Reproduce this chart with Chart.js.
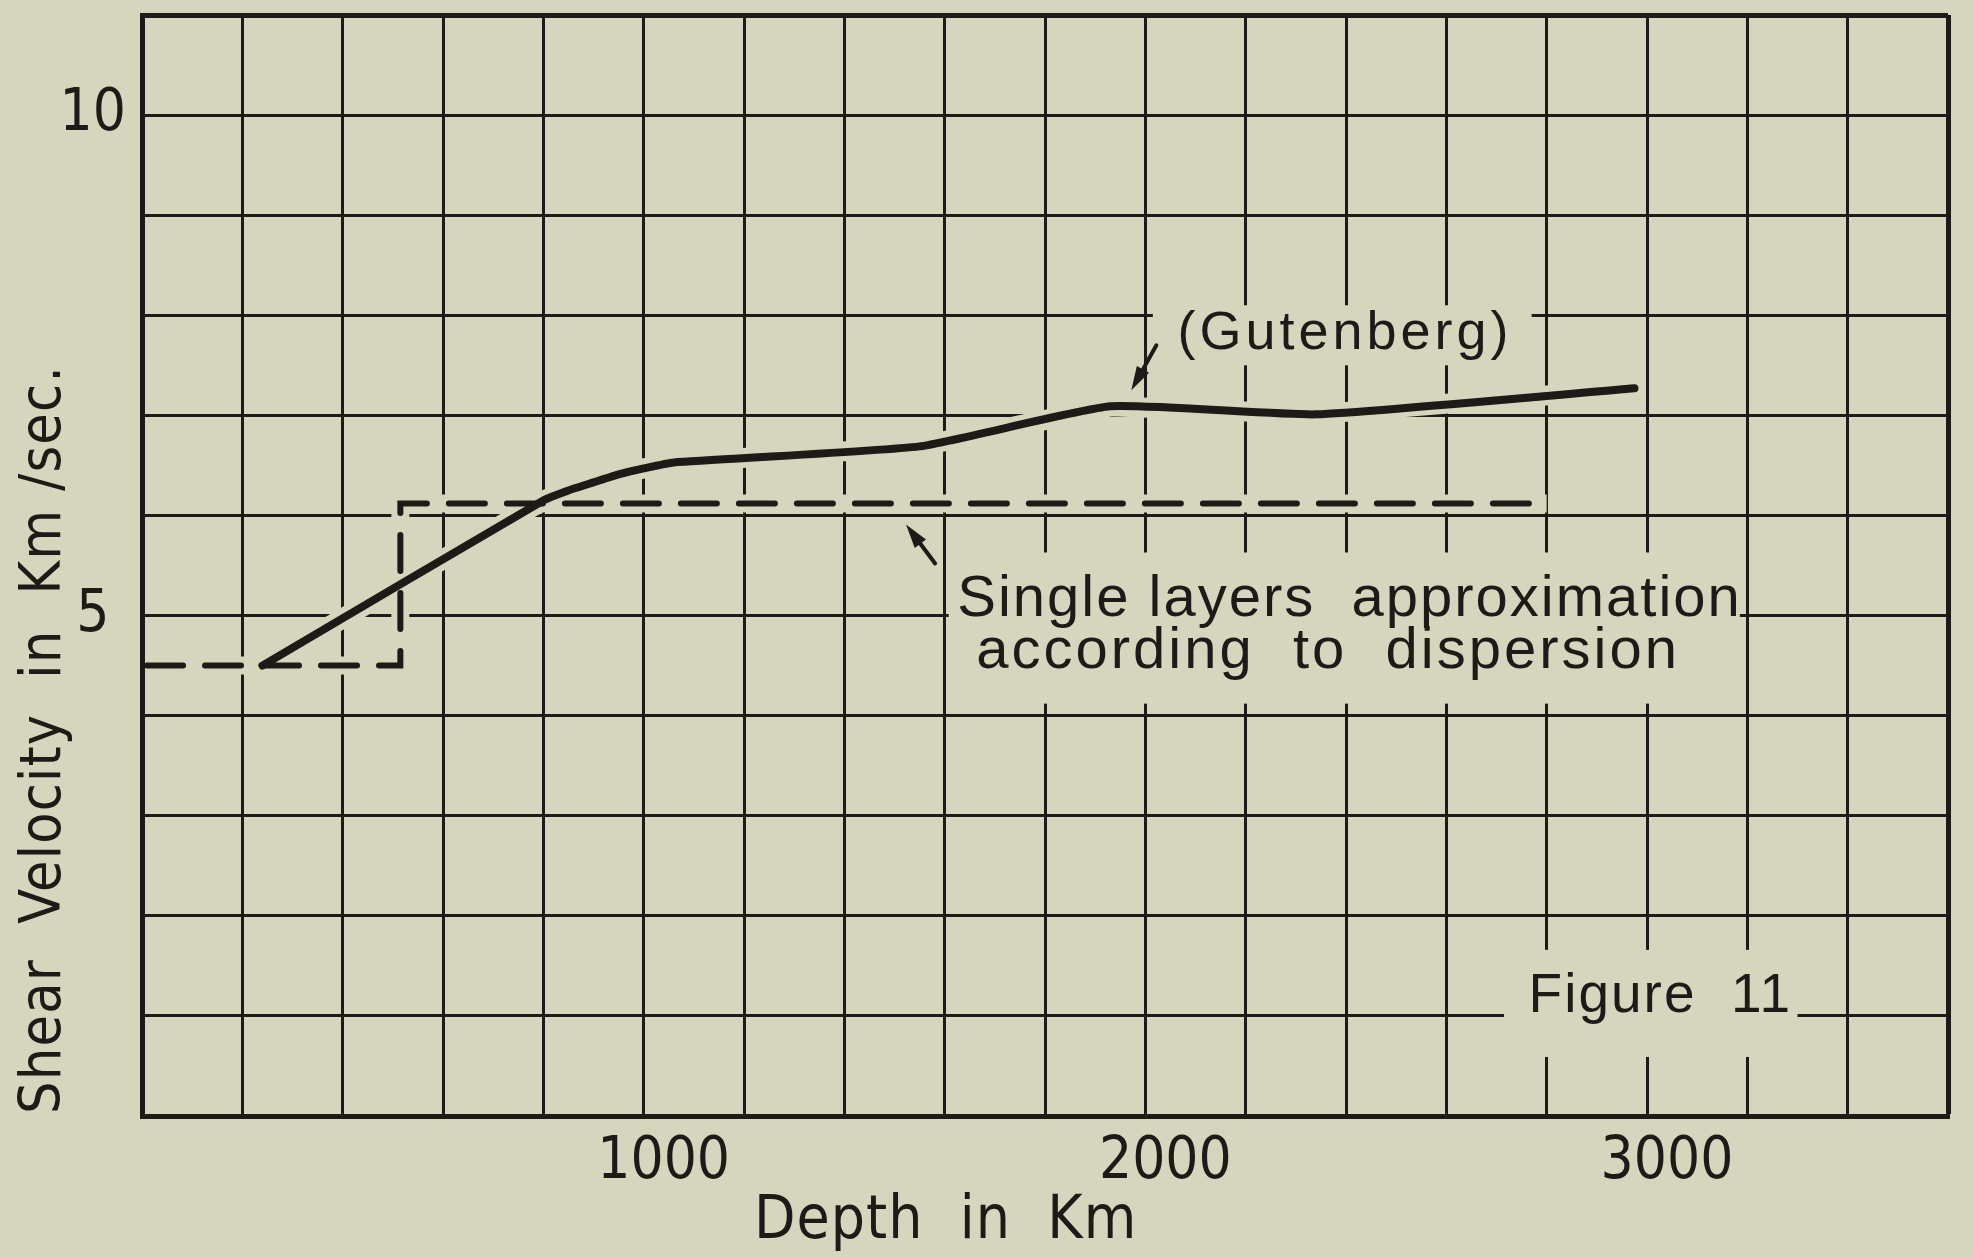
<!DOCTYPE html>
<html>
<head>
<meta charset="utf-8">
<script src="https://cdn.jsdelivr.net/npm/chart.js@4.4.0/dist/chart.umd.min.js"></script>
<style>
  html, body { margin: 0; padding: 0; background: #d6d6be; }
  canvas { display: block; }
</style>
</head>
<body>
<canvas id="chShear" width="1974" height="1257"></canvas>
<script>
// Gutenberg shear velocity curve (depth km, velocity km/sec)
var gutDepth = [240, 800, 850, 900, 950, 1000, 1060, 1550, 1930, 2340, 2975];
var gutVel = [4.50, 6.15, 6.25, 6.33, 6.41, 6.47, 6.53, 6.69, 7.09, 7.01, 7.27];

// single layers approximation according to dispersion (dashed)
var layerDepth = [10, 515, 515, 2800];
var layerVel = [4.5, 4.5, 6.12, 6.12];

var xLabels = [1000, 2000, 3000];
var yLabels = [5, 10];

var paper = '#d6d6be';
var ink = '#1d1b17';
var narrow = '"DejaVu Sans Condensed", "Liberation Sans", sans-serif';
var plain = '"Liberation Sans", "DejaVu Sans", sans-serif';

function pts(xs, ys) {
    return xs.map(function (v, i) { return { x: v, y: ys[i] }; });
}

// paper-coloured patches behind the lettering, and a halo along each curve
var paperPlugin = {
    id: 'paper',
    beforeDraw: function (chart) {
        var ctx = chart.ctx;
        ctx.save();
        ctx.fillStyle = paper;
        ctx.fillRect(0, 0, chart.width, chart.height);
        ctx.restore();
    },
    beforeDatasetsDraw: function (chart, args, opts) {
        var ctx = chart.ctx, x = chart.scales.x, y = chart.scales.y;
        ctx.save();
        ctx.fillStyle = paper;
        opts.clear.forEach(function (b) {
            var l = x.getPixelForValue(b[0]), r = x.getPixelForValue(b[1]);
            var t = y.getPixelForValue(b[3]), bt = y.getPixelForValue(b[2]);
            ctx.fillRect(l, t, r - l, bt - t);
        });
        ctx.strokeStyle = paper;
        ctx.lineJoin = 'round';
        ctx.lineCap = 'butt';
        chart.data.datasets.forEach(function (ds) {
            ctx.lineWidth = ds.borderWidth + 12;
            ctx.beginPath();
            ds.data.forEach(function (p, i) {
                var px = x.getPixelForValue(p.x), py = y.getPixelForValue(p.y);
                if (i) ctx.lineTo(px, py); else ctx.moveTo(px, py);
            });
            ctx.stroke();
        });
        ctx.restore();
    },
    afterDatasetsDraw: function (chart, args, opts) {
        var ctx = chart.ctx, x = chart.scales.x, y = chart.scales.y, a = chart.chartArea;
        ctx.save();
        ctx.fillStyle = ink;
        ctx.strokeStyle = ink;

        // arrows
        opts.arrows.forEach(function (ar) {
            var x0 = x.getPixelForValue(ar[0]), y0 = y.getPixelForValue(ar[1]);
            var x1 = x.getPixelForValue(ar[2]), y1 = y.getPixelForValue(ar[3]);
            var ang = Math.atan2(y1 - y0, x1 - x0);
            ctx.lineWidth = 4;
            ctx.lineCap = 'round';
            ctx.beginPath();
            ctx.moveTo(x0, y0);
            ctx.lineTo(x1 - 14 * Math.cos(ang), y1 - 14 * Math.sin(ang));
            ctx.stroke();
            ctx.beginPath();
            ctx.moveTo(x1, y1);
            ctx.lineTo(x1 - 24 * Math.cos(ang) + 7 * Math.sin(ang), y1 - 24 * Math.sin(ang) - 7 * Math.cos(ang));
            ctx.lineTo(x1 - 24 * Math.cos(ang) - 7 * Math.sin(ang), y1 - 24 * Math.sin(ang) + 7 * Math.cos(ang));
            ctx.closePath();
            ctx.fill();
        });

        // notes inside the plot
        ctx.textBaseline = 'alphabetic';
        ctx.textAlign = 'left';
        opts.notes.forEach(function (n) {
            ctx.font = n.size + 'px ' + plain;
            ctx.letterSpacing = n.spacing + 'px';
            ctx.fillText(n.text, x.getPixelForValue(n.depth), y.getPixelForValue(n.vel));
        });

        // axis titles
        ctx.font = '60px ' + narrow;
        ctx.letterSpacing = '1px';
        ctx.fillText(opts.xTitle, x.getPixelForValue(1220), a.bottom + 122);
        ctx.font = '57px ' + narrow;
        ctx.letterSpacing = '1.2px';
        ctx.translate(60, a.bottom - 2);
        ctx.rotate(-Math.PI / 2);
        ctx.fillText(opts.yTitle, 0, 0);
        ctx.restore();
    }
};

var chShear = new Chart(document.getElementById('chShear'), {
    type: 'line',
    data: {
        datasets: [
            {
                label: 'Gutenberg',
                data: pts(gutDepth, gutVel),
                borderColor: ink,
                borderWidth: 8,
                borderCapStyle: 'round',
                borderJoinStyle: 'round',
                pointRadius: 0,
                tension: 0.15,
                fill: false
            },
            {
                label: 'Single layers approximation according to dispersion',
                data: pts(layerDepth, layerVel),
                borderColor: ink,
                borderWidth: 6,
                borderDash: [36, 22],
                borderCapStyle: 'round',
                pointRadius: 0,
                tension: 0,
                fill: false
            }
        ]
    },
    options: {
        responsive: false,
        animation: false,
        devicePixelRatio: 1,
        layout: { padding: { left: 0, top: 15, right: 26, bottom: 0 } },
        plugins: {
            legend: { display: false },
            tooltip: { enabled: false },
            paper: {
                clear: [
                    [2015, 2770, 7.5, 8.1],
                    [1608, 3185, 4.12, 5.63],
                    [2715, 3300, 0.59, 1.66]
                ],
                arrows: [
                    [2022, 7.70, 1972, 7.25],
                    [1581, 5.52, 1523, 5.91]
                ],
                notes: [
                    { text: '(Gutenberg)', depth: 2064, vel: 7.66, size: 54, spacing: 4 },
                    { text: 'Single layers  approximation', depth: 1625, vel: 5.0, size: 58, spacing: 2 },
                    { text: 'according  to  dispersion', depth: 1663, vel: 4.48, size: 58, spacing: 3 },
                    { text: 'Figure  11', depth: 2764, vel: 1.04, size: 55, spacing: 2 }
                ],
                xTitle: 'Depth  in  Km',
                yTitle: 'Shear  Velocity  in  Km /sec.'
            }
        },
        scales: {
            x: {
                type: 'linear',
                min: 0,
                max: 3600,
                afterFit: function (s) { s.height = 141; s.paddingLeft = 0; s.paddingRight = 0; },
                grid: {
                    color: ink,
                    lineWidth: function (c) { return c.tick && c.tick.value === 3600 ? 5 : 3; },
                    drawTicks: false
                },
                border: { display: true, color: ink, width: 5 },
                ticks: {
                    stepSize: 200,
                    autoSkip: false,
                    maxRotation: 0,
                    padding: 12,
                    labelOffset: 20,
                    color: ink,
                    font: { family: narrow, size: 58 },
                    callback: function (v) { return xLabels.indexOf(v) >= 0 ? String(v) : ''; }
                }
            },
            y: {
                type: 'linear',
                min: 0,
                max: 11,
                afterFit: function (s) { s.width = 142; s.paddingTop = 0; s.paddingBottom = 0; },
                grid: {
                    color: ink,
                    lineWidth: function (c) { return c.tick && c.tick.value === 11 ? 5 : 3; },
                    drawTicks: false
                },
                border: { display: true, color: ink, width: 5 },
                ticks: {
                    stepSize: 1,
                    autoSkip: false,
                    crossAlign: 'center',
                    padding: 16,
                    color: ink,
                    font: { family: narrow, size: 58 },
                    callback: function (v) { return yLabels.indexOf(v) >= 0 ? String(v) : ''; }
                }
            }
        }
    },
    plugins: [paperPlugin]
});
</script>
</body>
</html>
